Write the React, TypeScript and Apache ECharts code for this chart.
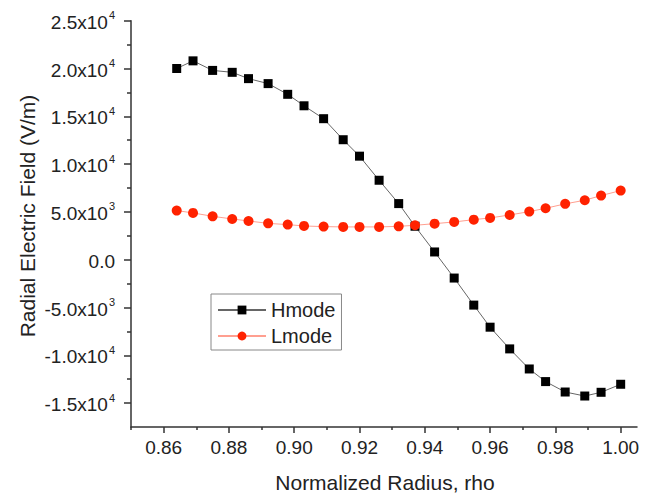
import React, { useEffect, useRef } from "react";
import * as echarts from "echarts";

const rho = [0.864, 0.869, 0.875, 0.881, 0.886, 0.892, 0.898, 0.903, 0.909, 0.915, 0.92, 0.926, 0.932, 0.937, 0.943, 0.949, 0.955, 0.96, 0.966, 0.972, 0.977, 0.983, 0.989, 0.994, 1.0];
const hmode = [20000, 20800, 19800, 19600, 18940, 18420, 17300, 16100, 14750, 12550, 10830, 8310, 5870, 3500, 810, -1920, -4750, -7060, -9330, -11430, -12750, -13840, -14260, -13870, -13030];
const lmode = [5140, 4890, 4540, 4260, 4050, 3800, 3670, 3530, 3460, 3430, 3430, 3430, 3490, 3600, 3770, 3950, 4190, 4370, 4680, 5030, 5380, 5840, 6220, 6710, 7230];

const xMajor = [0.86, 0.88, 0.9, 0.92, 0.94, 0.96, 0.98, 1.0];
const xMinor = [0.85, 0.87, 0.89, 0.91, 0.93, 0.95, 0.97, 0.99];
const yMajor = [-15000, -10000, -5000, 0, 5000, 10000, 15000, 20000, 25000];
const yMinor = [-12500, -7500, -2500, 2500, 7500, 12500, 17500, 22500];

const xTitle = "Normalized Radius, rho";
const yTitle = "Radial Electric Field (V/m)";

const FONT = "'Liberation Sans', Arial, sans-serif";
const TXT = "#222";
const AX = "#333";

function yFmt(v: number): string {
  if (v === 0) return "{b|0.0}";
  const e = Math.floor(Math.log10(Math.abs(v)) + 1e-9);
  const m = (v / Math.pow(10, e)).toFixed(1);
  return `{b|${m}x10}{s|${e}}`;
}

export default function App() {
  const ref = useRef<HTMLDivElement>(null);
  useEffect(() => {
    if (!ref.current) return;
    const chart = echarts.init(ref.current, undefined, { renderer: "svg" });
    const grid = { left: 131, top: 20.7, right: 13, bottom: 66 };
    const xBase = {
      type: "value" as const,
      min: 0.85,
      max: 1.005,
      position: "bottom" as const,
      splitLine: { show: false },
    };
    const yBase = {
      type: "value" as const,
      min: -17500,
      max: 25000,
      position: "left" as const,
      splitLine: { show: false },
    };
    chart.setOption({
      animation: false,
      backgroundColor: "#fff",
      grid,
      legend: {
        show: true,
        orient: "vertical",
        left: 211,
        top: 294,
        padding: [6, 6, 4, 6],
        itemGap: 6,
        itemWidth: 48,
        itemHeight: 11,
        borderColor: "#888",
        borderWidth: 1,
        backgroundColor: "#fff",
        textStyle: { fontFamily: FONT, fontSize: 20, color: TXT },
        data: ["Hmode", "Lmode"],
      },
      xAxis: [
        {
          ...xBase,
          axisLine: { show: true, onZero: false, lineStyle: { color: AX, width: 1.5 } },
          axisTick: { show: true, customValues: xMajor, length: 6, lineStyle: { color: AX, width: 1.5 } },
          axisLabel: {
            show: true,
            customValues: xMajor,
            formatter: (v: number) => v.toFixed(2),
            fontFamily: FONT,
            fontSize: 19,
            color: TXT,
            margin: 11,
          },
        },
        {
          ...xBase,
          axisLine: { show: false, onZero: false },
          axisTick: { show: true, customValues: xMinor, length: 3, lineStyle: { color: AX, width: 1.5 } },
          axisLabel: { show: false },
        },
      ],
      yAxis: [
        {
          ...yBase,
          axisLine: { show: true, onZero: false, lineStyle: { color: AX, width: 1.5 } },
          axisTick: { show: true, customValues: yMajor, length: 7, lineStyle: { color: AX, width: 1.5 } },
          axisLabel: {
            show: true,
            customValues: yMajor,
            formatter: yFmt,
            margin: 16,
            color: TXT,
            rich: {
              b: { fontFamily: FONT, fontSize: 19, color: TXT, lineHeight: 22, verticalAlign: "bottom" },
              s: { fontFamily: FONT, fontSize: 11, color: TXT, lineHeight: 22, verticalAlign: "top", padding: [0, 0, 0, 1] },
            },
          },
        },
        {
          ...yBase,
          axisLine: { show: false, onZero: false },
          axisTick: { show: true, customValues: yMinor, length: 4, lineStyle: { color: AX, width: 1.5 } },
          axisLabel: { show: false },
        },
      ],
      graphic: [
        {
          type: "text",
          x: 27,
          y: 216,
          rotation: Math.PI / 2,
          style: { text: yTitle, fontFamily: FONT, fontSize: 21, fill: TXT, align: "center", verticalAlign: "middle" },
        },
        {
          type: "text",
          x: 385,
          y: 482,
          style: { text: xTitle, fontFamily: FONT, fontSize: 21, fill: TXT, align: "center", verticalAlign: "middle" },
        },
      ],
      series: [
        {
          name: "Hmode",
          type: "line",
          xAxisIndex: 0,
          yAxisIndex: 0,
          data: rho.map((x, i) => [x, hmode[i]]),
          symbol: "rect",
          symbolSize: 9,
          itemStyle: { color: "#000" },
          lineStyle: { color: "#666", width: 1 },
          z: 2,
        },
        {
          name: "Lmode",
          type: "line",
          xAxisIndex: 0,
          yAxisIndex: 0,
          data: rho.map((x, i) => [x, lmode[i]]),
          symbol: "circle",
          symbolSize: 10,
          itemStyle: { color: "#ff2200" },
          lineStyle: { color: "#ff9f90", width: 1 },
          z: 3,
        },
      ],
    });
    return () => chart.dispose();
  }, []);
  return <div ref={ref} style={{ width: 650, height: 493, position: "absolute", left: 0, top: 0 }} />;
}
